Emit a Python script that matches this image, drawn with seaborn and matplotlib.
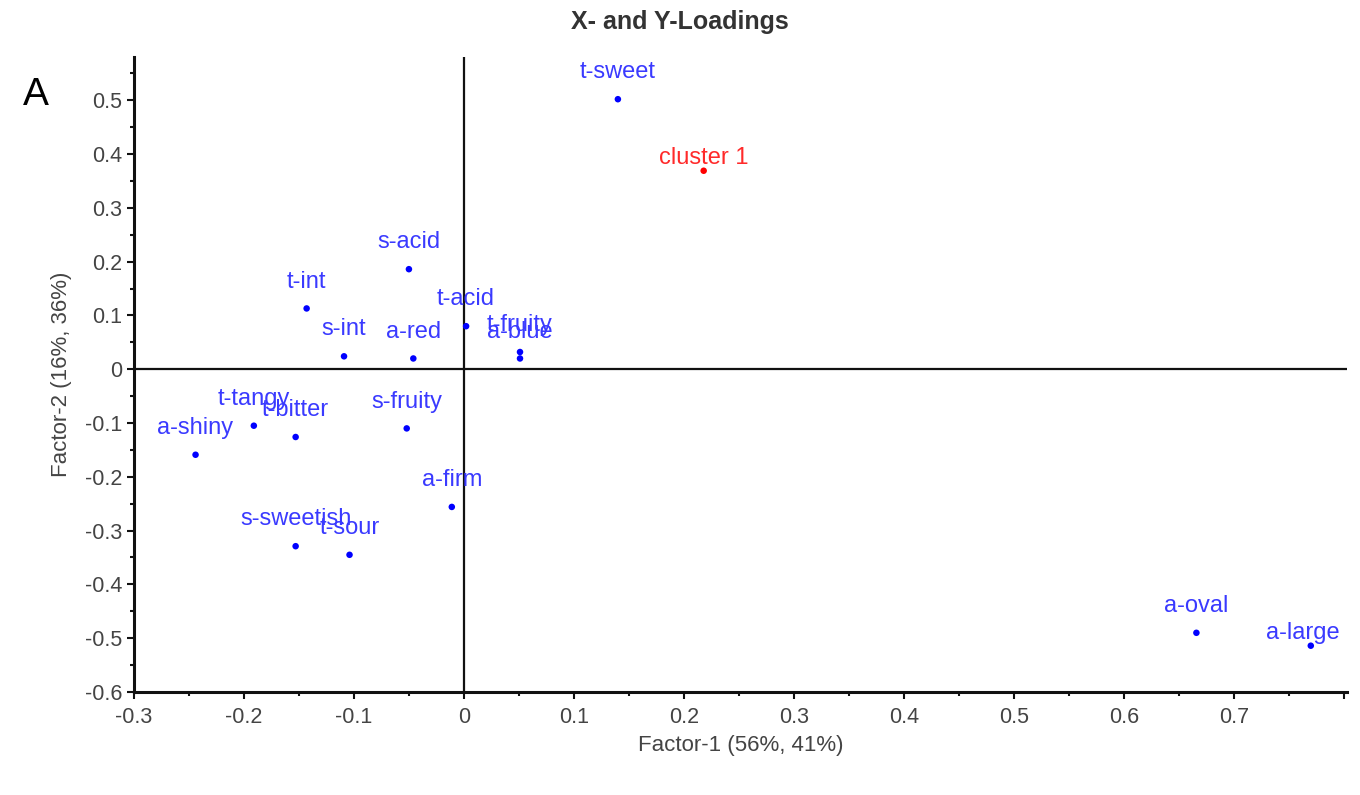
import pandas as pd
import numpy as np
import matplotlib
matplotlib.use("Agg")
import matplotlib.pyplot as plt
from matplotlib.ticker import MultipleLocator
import seaborn as sns

# loadings
labels = ['t-sweet', 'cluster 1', 's-acid', 't-int', 't-acid', 's-int', 'a-red',
          't-fruity', 'a-blue', 't-tangy', 't-bitter', 's-fruity', 'a-shiny',
          'a-firm', 's-sweetish', 't-sour', 'a-oval', 'a-large']
factor1 = [0.140, 0.218, -0.050, -0.143, 0.002, -0.109, -0.046,
           0.051, 0.051, -0.191, -0.153, -0.052, -0.244,
           -0.011, -0.153, -0.104, 0.666, 0.770]
factor2 = [0.502, 0.369, 0.186, 0.113, 0.080, 0.024, 0.020,
           0.032, 0.020, -0.105, -0.126, -0.110, -0.159,
           -0.256, -0.329, -0.345, -0.490, -0.514]
kind = ['X'] * len(labels)
kind[1] = 'Y'

df = pd.DataFrame({'label': labels, 'f1': factor1, 'f2': factor2, 'kind': kind})

# a few labels sit closer to their point in the original
label_shift = {'cluster 1': (0, 5), 'a-large': (-6, 5)}

sns.set_style("white")
plt.rcParams['font.family'] = ['Liberation Sans', 'DejaVu Sans']

fig = plt.figure(figsize=(13.6, 7.95), dpi=100)
ax = fig.add_axes([0.0985, 0.1296, 0.892, 0.7984])

colors = {'X': '#0000ff', 'Y': '#ff0000'}
sns.scatterplot(data=df, x='f1', y='f2', hue='kind', palette=colors, s=22,
                edgecolor='none', legend=False, ax=ax, zorder=3)

for _, r in df.iterrows():
    c = '#3a3aff' if r['kind'] == 'X' else '#ff2a2a'
    dx, dy = label_shift.get(r['label'], (0, 15))
    ax.annotate(r['label'], (r['f1'], r['f2']), xytext=(dx, dy),
                textcoords='offset points', ha='center', va='baseline',
                fontsize=17, color=c)

ax.axhline(0, color='#111111', lw=1.6, zorder=1)
ax.axvline(0, color='#111111', lw=1.6, zorder=1)

ax.set_xlim(-0.3, 0.803)
ax.set_ylim(-0.6, 0.58)
ax.xaxis.set_major_locator(MultipleLocator(0.1))
ax.xaxis.set_minor_locator(MultipleLocator(0.05))
ax.yaxis.set_major_locator(MultipleLocator(0.1))
ax.yaxis.set_minor_locator(MultipleLocator(0.05))

def fmt(v, pos):
    v = round(v, 2)
    if v > 0.75:
        return ''
    return '0' if v == 0 else ('%g' % v)

ax.xaxis.set_major_formatter(plt.FuncFormatter(fmt))
ax.yaxis.set_major_formatter(plt.FuncFormatter(fmt))

for s in ['top', 'right']:
    ax.spines[s].set_visible(False)
for s in ['left', 'bottom']:
    ax.spines[s].set_linewidth(2.2)
    ax.spines[s].set_color('#111111')

ax.tick_params(which='major', direction='out', length=5, width=1.5,
               labelsize=15.5, colors='#111111', labelcolor='#444444')
ax.tick_params(axis='x', which='major', pad=6)
ax.tick_params(which='minor', direction='out', length=3, width=1.5, colors='#111111')
ax.tick_params(axis='both', which='both', bottom=True, left=True)

ax.set_xlabel('Factor-1 (56%, 41%)', fontsize=16, color='#444444', labelpad=5)
ax.set_ylabel('Factor-2 (16%, 36%)', fontsize=16, color='#444444', labelpad=9)

fig.text(0.5, 0.972, 'X- and Y-Loadings', ha='center', va='center',
         fontsize=18, fontweight='bold', color='#333333')
fig.text(0.026, 0.88, 'A', ha='center', va='center', fontsize=28, color='black')

fig.savefig('out.png', dpi=100)
